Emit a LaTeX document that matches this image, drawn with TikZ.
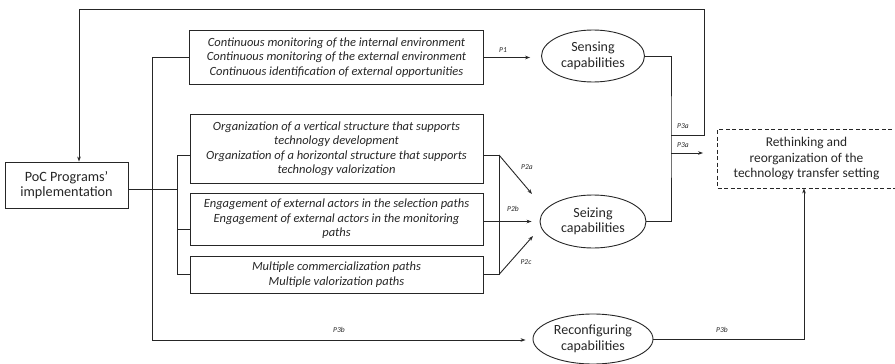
\documentclass[tikz,border=0pt]{standalone}
\usepackage{fontspec}
\setmainfont{Carlito}
\usetikzlibrary{arrows.meta,shapes.geometric}
\tikzset{
  ln/.style={line width=0.9pt, draw=black!85},
  arr/.style={ln, -{Stealth[length=5pt,width=3.6pt]}},
  ibox/.style={draw=black!85, line width=0.9pt, rectangle, minimum width=294pt, inner sep=0pt,
     align=center, font=\itshape\fontsize{12.5}{14.5}\selectfont, text=black!85},
  capell/.style={draw=black!85, line width=0.9pt, ellipse, inner sep=0pt, align=center,
     font=\fontsize{14}{15.5}\selectfont, text=black!85},
  plab/.style={font=\itshape\fontsize{7.5}{9}\selectfont, text=black!85, inner sep=0pt},
}
\begin{document}
\begin{tikzpicture}[x=1pt,y=-1pt]
\useasboundingbox (0,0) rectangle (895,364);
% nodes
\node[draw=black!85, line width=0.9pt, minimum width=123pt, minimum height=46pt, inner sep=0pt,
      align=center, font=\fontsize{14.2}{15.5}\selectfont, text=black!85] (poc) at (66.5,185)
      {PoC Programs'\\implementation};
\node[ibox, minimum height=54pt] (b1) at (336.5,57.5)
  {Continuous monitoring of the internal environment\\Continuous monitoring of the external environment\\Continuous identification of external opportunities};
\node[ibox, minimum height=69pt, minimum width=293pt] (b2) at (336.5,148.5)
  {Organization of a vertical structure that supports\\technology development\\Organization of a horizontal structure that supports\\technology valorization};
\node[ibox, minimum height=52pt, minimum width=293pt] (b3) at (336.5,219)
  {Engagement of external actors in the selection paths\\Engagement of external actors in the monitoring\\paths};
\node[ibox, minimum height=37pt, minimum width=293pt] (b4) at (336.5,274.5)
  {Multiple commercialization paths\\Multiple valorization paths};
\node[capell, minimum width=103pt, minimum height=52pt] (sens) at (593,56) {Sensing\\capabilities};
\node[capell, minimum width=106pt, minimum height=53pt] (seiz) at (593,221.5) {Seizing\\capabilities};
\node[capell, minimum width=120pt, minimum height=50pt] (reconf) at (593,339) {Reconfiguring\\capabilities};
\node[draw=black!85, line width=0.9pt, dashed, dash pattern=on 4pt off 2.5pt, minimum width=178pt, minimum height=59pt,
      inner sep=0pt, align=center, font=\fontsize{13.4}{15.5}\selectfont, text=black!85] (reth) at (806.5,158.5)
      {Rethinking and\\reorganization of the\\technology transfer setting};
% coordinates
\coordinate (ja) at (671,135);
\coordinate (jb) at (671,153);
\coordinate (tr) at (704,135);
\coordinate (lp) at (79,9);
\coordinate (busA) at (152,340);
\coordinate (busB) at (177,274.5);
\coordinate (r1) at (499,155);
\coordinate (r4) at (499,274.5);
\coordinate (t2a) at (532,194);
\coordinate (t2c) at (533,236);
% connectors
\draw[ln] (sens.east) -| (ja) |- (seiz.east);
\draw[arr] (ja) -- (tr) |- (lp) -- (lp |- poc.north);
\draw[arr] (jb) -- ([xshift=-14pt]jb -| reth.west);
\draw[ln] ([yshift=-4pt]poc.east) -- ([yshift=-4pt]poc.east -| busB);
\draw[ln] ([yshift=-6.5pt]b2.west) -| (busB) -- (b4.west);
\draw[ln] ([yshift=-10pt]b3.west) -- ([yshift=-10pt]b3.west -| busB);
\draw[arr] (b1.west) -| (busA) -- ([xshift=-7pt]busA -| reconf.west);
\draw[arr] (b1.east) -- ([xshift=-11pt]b1.east -| sens.west);
\draw[ln] ([yshift=-6.5pt]b2.east) -- (r1) -- (r4) -- (b4.east);
\draw[arr] (r1) -- (t2a);
\draw[arr] (b3.east |- seiz.west) -- ([xshift=-8pt]seiz.west);
\draw[arr] (r4) -- (t2c);
\draw[arr] (reconf.east) -| ([xshift=-2.5pt]reth.south);
% labels
\node[plab] (l1) at (503,50) {P1};
\node[plab] (l2a) at (527,167) {P2a};
\node[plab] (l2b) at (513,209) {P2b};
\node[plab] (l2c) at (526,262) {P2c};
\node[plab] (l3a) at (683,126) {P3a};
\node[plab] (l3a2) at (683,145) {P3a};
\node[plab] (l3b) at (339,330) {P3b};
\node[plab] (l3b2) at (722,330) {P3b};
\end{tikzpicture}
\end{document}
